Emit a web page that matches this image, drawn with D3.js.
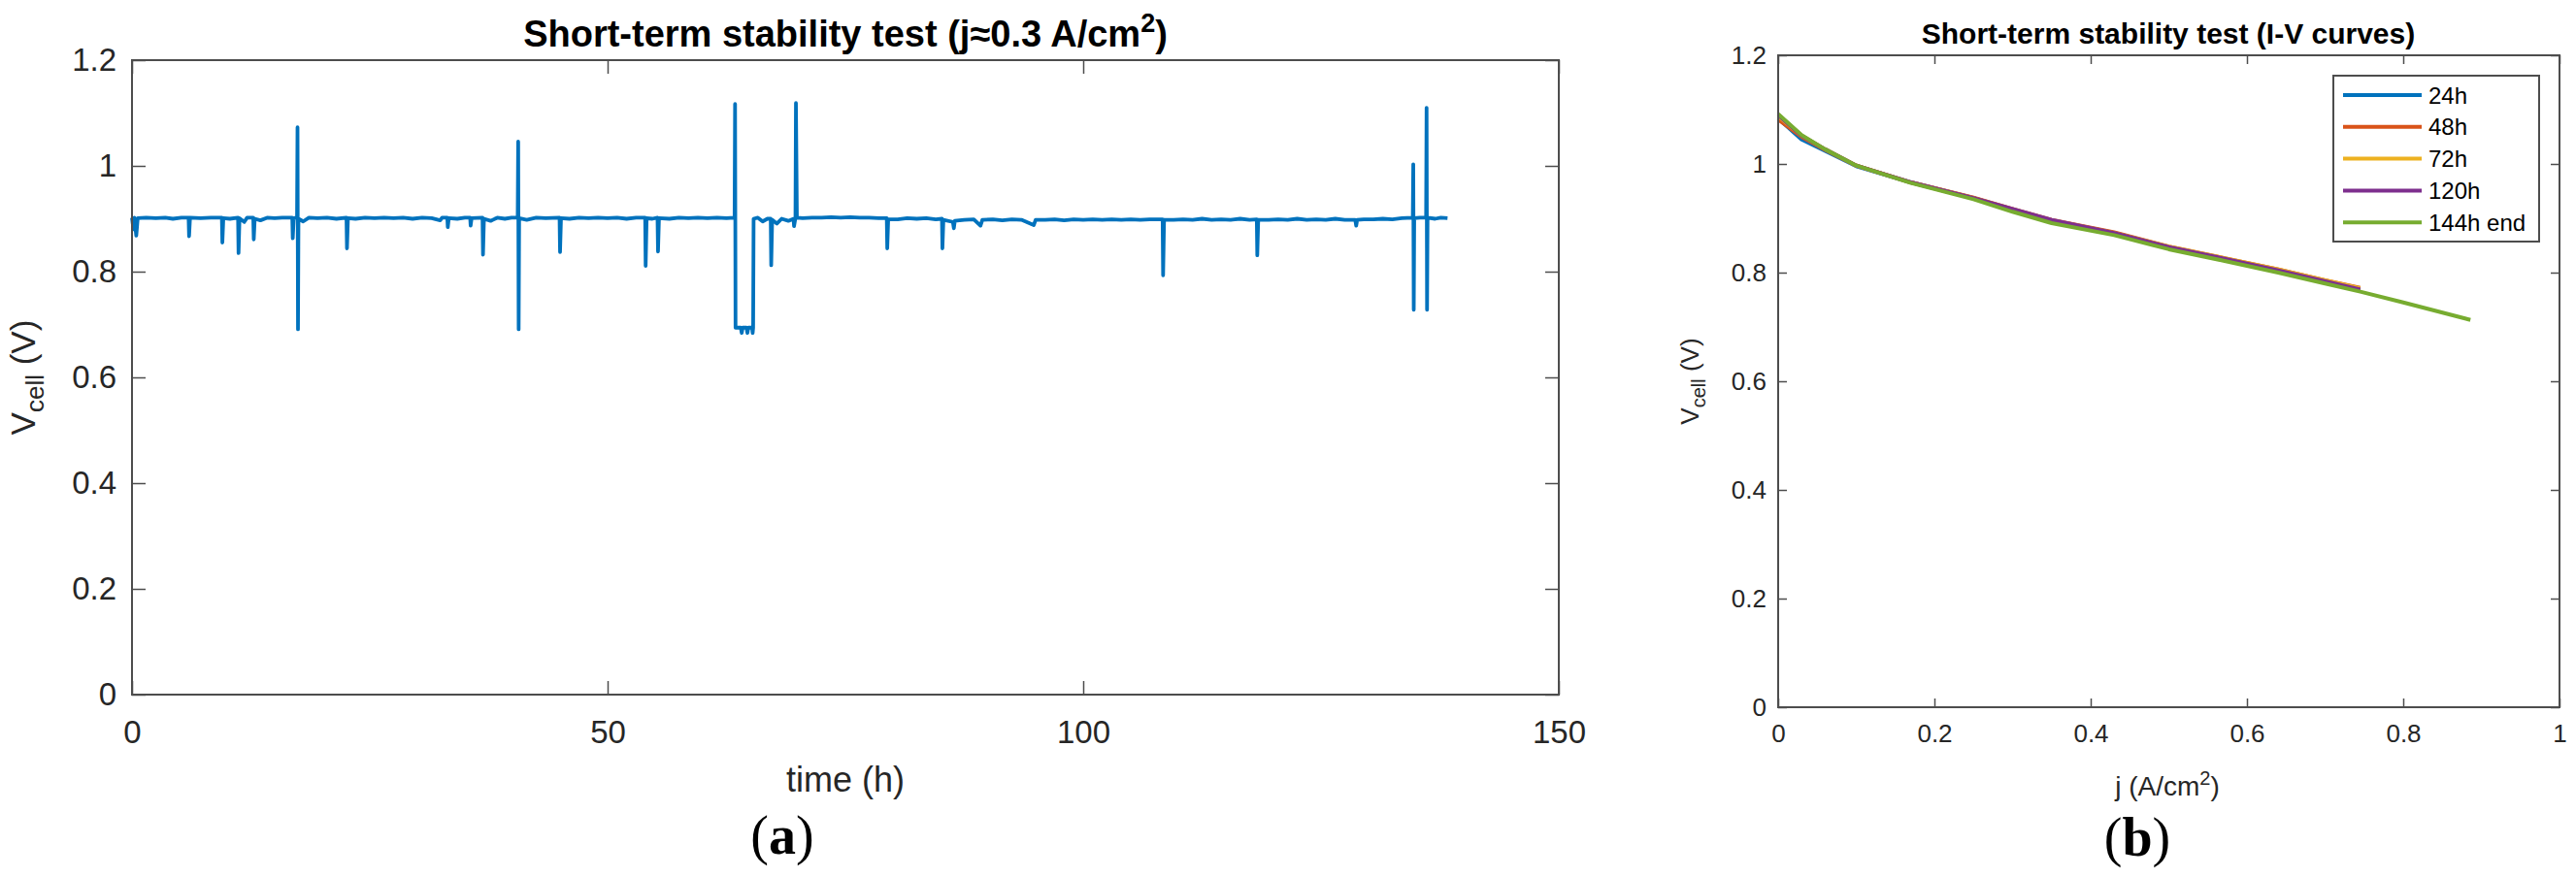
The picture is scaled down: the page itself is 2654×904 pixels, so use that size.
<!DOCTYPE html>
<html><head><meta charset="utf-8">
<script src="https://cdn.jsdelivr.net/npm/d3@7"></script>
<style>body{margin:0;background:#fff}svg{display:block}</style>
</head><body>
<svg id="c" width="2654" height="904"></svg>
<script>
// ---------- (a) stability test: time (h) vs Vcell (V) ----------
const stabilityData = [
 [0,0.902],[0.15,0.88],[0.25,0.902],[0.45,0.868],[0.6,0.901],
 [1.5,0.902],[2.5,0.901],[3.5,0.902],[4.3,0.9],[5.2,0.902],
 [5.95,0.902],[6.0,0.867],[6.1,0.902],[7.2,0.901],[8.3,0.902],
 [9.45,0.902],[9.5,0.855],[9.6,0.901],[10.3,0.9],
 [11.15,0.902],[11.2,0.835],[11.3,0.901],[11.8,0.894],[12.1,0.902],
 [12.75,0.902],[12.8,0.861],[12.9,0.9],[13.5,0.897],[14.2,0.902],[15.0,0.901],[15.8,0.902],
 [16.85,0.902],[16.9,0.863],[17.0,0.901],
 [17.35,0.902],[17.4,1.073],[17.45,0.691],[17.5,0.9],
 [18.0,0.895],[18.6,0.902],[19.5,0.901],[20.5,0.902],[21.5,0.9],
 [22.55,0.902],[22.6,0.844],[22.7,0.901],
 [23.5,0.9],[24.5,0.902],[25.5,0.901],[26.5,0.902],[27.5,0.901],[28.5,0.902],[29.5,0.9],[30.5,0.902],[31.5,0.901],
 [32.4,0.897],[32.6,0.902],[33.15,0.902],[33.2,0.884],[33.3,0.901],
 [34.2,0.9],[35.0,0.902],[35.55,0.902],[35.6,0.887],[35.7,0.901],
 [36.85,0.902],[36.9,0.832],[37.0,0.9],
 [37.7,0.896],[38.4,0.902],[39.2,0.9],[39.9,0.902],
 [40.55,0.902],[40.6,1.046],[40.65,0.691],[40.7,0.901],
 [41.5,0.898],[42.5,0.902],[43.5,0.901],
 [44.95,0.902],[45.0,0.837],[45.1,0.901],
 [46,0.9],[47,0.902],[48,0.901],[49,0.902],[50,0.901],[51,0.902],[52,0.9],[53,0.902],
 [53.95,0.902],[54.0,0.811],[54.1,0.901],[54.7,0.9],
 [55.25,0.902],[55.3,0.838],[55.4,0.901],
 [56.5,0.9],[57.5,0.902],[58.5,0.901],[59.5,0.902],[60.5,0.901],[61.5,0.902],[62.5,0.901],
 [63.35,0.902],[63.4,1.117],[63.45,0.694],[64.0,0.694],[64.1,0.684],[64.2,0.694],[64.6,0.694],[64.7,0.684],[64.8,0.694],[65.2,0.694],[65.25,0.684],[65.3,0.694],[65.35,0.9],
 [65.8,0.902],[66.3,0.895],[66.8,0.9],
 [67.15,0.9],[67.2,0.812],[67.3,0.898],
 [67.8,0.891],[68.3,0.9],[69.0,0.896],
 [69.55,0.9],[69.6,0.886],[69.75,0.902],[69.8,1.119],[69.9,0.902],
 [70.5,0.901],[71.5,0.902],[72.5,0.902],[73.5,0.903],[74.5,0.902],[75.5,0.903],[76.5,0.902],[77.5,0.902],[78.5,0.901],
 [79.35,0.901],[79.4,0.844],[79.5,0.899],
 [80.5,0.899],[81.5,0.901],[82.5,0.9],[83.5,0.901],[84.5,0.899],
 [85.15,0.9],[85.2,0.844],[85.3,0.898],
 [86.3,0.894],[86.4,0.882],[86.5,0.896],
 [87.5,0.898],[88.5,0.899],[89.2,0.887],[89.4,0.898],[90.5,0.899],[91.5,0.897],[92.5,0.899],[93.5,0.898],
 [94.8,0.888],[95.0,0.898],[96,0.898],[97,0.899],[98,0.897],[99,0.899],[100,0.898],[101,0.899],[102,0.898],[103,0.899],[104,0.898],[105,0.899],[106,0.898],[107,0.899],
 [108.35,0.899],[108.4,0.793],[108.5,0.898],
 [109.5,0.898],[110.5,0.899],[111.5,0.898],[112.5,0.9],[113.5,0.898],[114.5,0.899],[115.5,0.898],[116.5,0.9],[117.5,0.898],
 [118.25,0.899],[118.3,0.831],[118.4,0.898],
 [119.5,0.898],[120.5,0.899],[121.5,0.898],[122.5,0.9],[123.5,0.898],[124.5,0.899],[125.5,0.898],[126.5,0.9],[127.5,0.898],
 [128.6,0.898],[128.7,0.887],[128.8,0.898],
 [129.5,0.899],[130.5,0.899],[131.5,0.9],[132.5,0.899],[133.5,0.901],
 [134.65,0.902],[134.7,1.003],[134.75,0.728],[134.8,0.901],[135.4,0.902],
 [136.05,0.902],[136.1,1.110],[136.15,0.728],[136.2,0.902],
 [137.0,0.9],[137.6,0.902],[138.3,0.901]
];
const leftXTicks = [0, 50, 100, 150];
const leftYTicks = [0, 0.2, 0.4, 0.6, 0.8, 1, 1.2];

// ---------- (b) I-V curves ----------
const ivJ    = [0, 0.03, 0.06, 0.1, 0.17, 0.25, 0.3, 0.35, 0.43, 0.5, 0.57, 0.64, 0.7, 0.745];
const ivJEnd = [0, 0.03, 0.06, 0.1, 0.17, 0.25, 0.3, 0.35, 0.43, 0.5, 0.57, 0.64, 0.7, 0.745, 0.8, 0.886];
const v24h  = [1.084, 1.045, 1.024, 0.996, 0.966, 0.937, 0.916, 0.896, 0.873, 0.847, 0.826, 0.804, 0.784, 0.770];
const v48h  = [1.082, 1.050, 1.026, 0.997, 0.966, 0.938, 0.917, 0.897, 0.874, 0.848, 0.827, 0.806, 0.786, 0.772];
const v72h  = [1.088, 1.052, 1.027, 0.997, 0.966, 0.937, 0.916, 0.896, 0.873, 0.848, 0.827, 0.806, 0.786, 0.771];
const v120h = [1.090, 1.052, 1.027, 0.997, 0.966, 0.937, 0.917, 0.897, 0.873, 0.847, 0.826, 0.804, 0.784, 0.769];
const v144h = [1.092, 1.053, 1.027, 0.997, 0.965, 0.935, 0.912, 0.891, 0.869, 0.843, 0.822, 0.800, 0.780, 0.765, 0.745, 0.713];
const ivNames  = ["24h", "48h", "72h", "120h", "144h end"];
const ivColors = ["#0072BD", "#D95319", "#EDB120", "#7E2F8E", "#77AC30"];
const rightXTicks = [0, 0.2, 0.4, 0.6, 0.8, 1];
const rightYTicks = [0, 0.2, 0.4, 0.6, 0.8, 1, 1.2];

const ivSeries = [
  {name: ivNames[0], color: ivColors[0], pts: ivJ.map((j,i)=>[j, v24h[i]])},
  {name: ivNames[1], color: ivColors[1], pts: ivJ.map((j,i)=>[j, v48h[i]])},
  {name: ivNames[2], color: ivColors[2], pts: ivJ.map((j,i)=>[j, v72h[i]])},
  {name: ivNames[3], color: ivColors[3], pts: ivJ.map((j,i)=>[j, v120h[i]])},
  {name: ivNames[4], color: ivColors[4], pts: ivJEnd.map((j,i)=>[j, v144h[i]])}
];

const FONT = "'Liberation Sans', Arial, Helvetica, sans-serif";
const SERIF = "'Liberation Serif', 'Times New Roman', serif";
const TXT = "#262626";
const AX = "#4d4d4d";
const fmt = d3.format("~g");
const svg = d3.select("#c");
svg.append("rect").attr("width",2654).attr("height",904).attr("fill","#fff");

function drawAxes(g, x, y, xt, yt, tick, fs, padX, padY) {
  const [x0,x1] = x.range(), [y0,y1] = y.range();
  const style = sel => {
    sel.select(".domain").remove();
    sel.selectAll("line").attr("stroke", AX).attr("stroke-width", 1.5);
    sel.selectAll("text").attr("font-family", FONT).attr("font-size", fs).attr("fill", TXT);
  };
  g.append("g").attr("transform",`translate(0,${y0})`)
    .call(d3.axisBottom(x).tickValues(xt).tickSize(-tick).tickPadding(padX).tickFormat(fmt)).call(style);
  g.append("g").attr("transform",`translate(0,${y1})`)
    .call(d3.axisTop(x).tickValues(xt).tickSize(-tick).tickFormat("")).call(style);
  g.append("g").attr("transform",`translate(${x0},0)`)
    .call(d3.axisLeft(y).tickValues(yt).tickSize(-tick).tickPadding(padY).tickFormat(fmt)).call(style);
  g.append("g").attr("transform",`translate(${x1},0)`)
    .call(d3.axisRight(y).tickValues(yt).tickSize(-tick).tickFormat("")).call(style);
  g.append("rect").attr("x",x0).attr("y",y1).attr("width",x1-x0).attr("height",y0-y1)
    .attr("fill","none").attr("stroke",AX).attr("stroke-width",2);
}

function panelLabel(x, y, letter) {
  const t = svg.append("text").attr("x",x).attr("y",y).attr("text-anchor","middle")
    .attr("font-family",SERIF).attr("font-size",56).attr("fill","#000");
  t.append("tspan").text("(");
  t.append("tspan").attr("font-weight","bold").text(letter);
  t.append("tspan").text(")");
}

// ---------- left chart ----------
const xL = d3.scaleLinear().domain([0,150]).range([136,1606]);
const yL = d3.scaleLinear().domain([0,1.2]).range([716,62]);
const gL = svg.append("g");
gL.append("path").datum(stabilityData)
  .attr("d", d3.line().x(d=>xL(d[0])).y(d=>yL(d[1])))
  .attr("fill","none").attr("stroke","#0072BD").attr("stroke-width",3.8).attr("stroke-linejoin","round");
drawAxes(gL, xL, yL, leftXTicks, leftYTicks, 14, 33, 27, 16);

const tL = gL.append("text").attr("x", 871).attr("y", 48).attr("text-anchor","middle")
  .attr("font-family", FONT).attr("font-weight","bold").attr("font-size",38).attr("fill","#000");
tL.append("tspan").text("Short-term stability test (j\u22480.3 A/cm");
tL.append("tspan").attr("dy",-15).attr("font-size",27).text("2");
tL.append("tspan").attr("dy",15).text(")");

gL.append("text").attr("x",871).attr("y",816).attr("text-anchor","middle")
  .attr("font-family",FONT).attr("font-size",36).attr("fill",TXT).text("time (h)");

const yLab = gL.append("text").attr("transform","translate(36,389) rotate(-90)").attr("text-anchor","middle")
  .attr("font-family",FONT).attr("font-size",35).attr("fill",TXT);
yLab.append("tspan").text("V");
yLab.append("tspan").attr("dy",9).attr("font-size",26).text("cell");
yLab.append("tspan").attr("dy",-9).text(" (V)");

panelLabel(806, 880, "a");

// ---------- right chart ----------
const xR = d3.scaleLinear().domain([0,1]).range([1832,2637]);
const yR = d3.scaleLinear().domain([0,1.2]).range([729,57]);
const gR = svg.append("g");
const lineR = d3.line().x(d=>xR(d[0])).y(d=>yR(d[1]));
gR.selectAll("path.iv").data(ivSeries).join("path").attr("class","iv")
  .attr("d", d=>lineR(d.pts)).attr("fill","none").attr("stroke",d=>d.color)
  .attr("stroke-width",4).attr("stroke-linejoin","round");
drawAxes(gR, xR, yR, rightXTicks, rightYTicks, 9, 26, 18, 12);

gR.append("text").attr("x",2234).attr("y",45).attr("text-anchor","middle")
  .attr("font-family",FONT).attr("font-weight","bold").attr("font-size",30).attr("fill","#000")
  .text("Short-term stability test (I-V curves)");

const xLabR = gR.append("text").attr("x",2233).attr("y",820).attr("text-anchor","middle")
  .attr("font-family",FONT).attr("font-size",28).attr("fill",TXT);
xLabR.append("tspan").text("j (A/cm");
xLabR.append("tspan").attr("dy",-11).attr("font-size",20).text("2");
xLabR.append("tspan").attr("dy",11).text(")");

const yLabR = gR.append("text").attr("transform","translate(1750,393) rotate(-90)").attr("text-anchor","middle")
  .attr("font-family",FONT).attr("font-size",26).attr("fill",TXT);
yLabR.append("tspan").text("V");
yLabR.append("tspan").attr("dy",7).attr("font-size",20).text("cell");
yLabR.append("tspan").attr("dy",-7).text(" (V)");

// legend
const lg = gR.append("g");
lg.append("rect").attr("x",2404).attr("y",78).attr("width",212).attr("height",171)
  .attr("fill","#fff").attr("stroke",AX).attr("stroke-width",2);
const rows = lg.selectAll("g.row").data(ivSeries).join("g").attr("class","row")
  .attr("transform",(d,i)=>`translate(0,${98 + i*32.8})`);
rows.append("line").attr("x1",2414).attr("x2",2495).attr("y1",0).attr("y2",0)
  .attr("stroke",d=>d.color).attr("stroke-width",4);
rows.append("text").attr("x",2502).attr("y",8.5).attr("font-family",FONT).attr("font-size",24)
  .attr("fill","#000").text(d=>d.name);

panelLabel(2202, 882, "b");
</script>
</body></html>
